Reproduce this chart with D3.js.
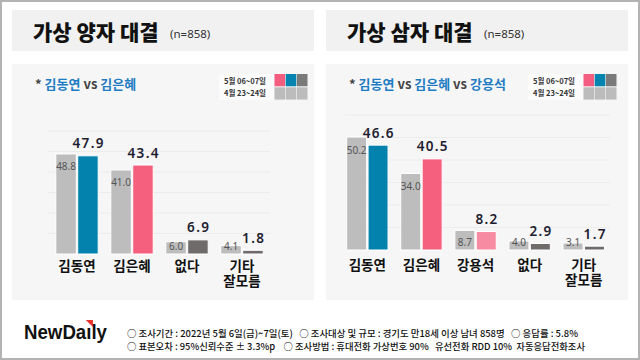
<!DOCTYPE html>
<html><head><meta charset="utf-8">
<script src="https://cdn.jsdelivr.net/npm/d3@7"></script>
<style>
html,body{margin:0;padding:0;background:#fff;}
svg{display:block;}
text{font-family:"Noto Sans","Noto Sans CJK KR",sans-serif;}
.kr{font-family:"Noto Sans CJK KR","Noto Sans",sans-serif;}
</style></head>
<body>
<svg id="c" width="640" height="360"></svg>
<script>
// ---- data ----
const leftCategories = ["김동연", "김은혜", "없다", "기타\n잘모름"];
const leftPrev = [48.8, 41.0, 6.0, 4.1];
const leftCurr = [47.9, 43.4, 6.9, 1.8];
const leftColors = ["#0382ad", "#f5607f", "#6f6b6b", "#6f6b6b"];

const rightCategories = ["김동연", "김은혜", "강용석", "없다", "기타\n잘모름"];
const rightPrev = [50.2, 34.0, 8.7, 4.0, 3.1];
const rightCurr = [46.6, 40.5, 8.2, 2.9, 1.7];
const rightColors = ["#0382ad", "#f5607f", "#f78ba1", "#6f6b6b", "#6f6b6b"];

const gridTicks = [10, 20, 30, 40, 50, 60];
const legendLabels = ["5월 06~07일", "4월 23~24일"];
const legendCurrColors = ["#f35d7f", "#0584b0", "#7a7a7a"];
const legendPrevColor = "#bcbcbc";
const prevColor = "#bdbdbd";

const footerLines = [
  "○ 조사기간 : 2022년 5월 6일(금)~7일(토)   ○ 조사대상 및 규모 : 경기도 만18세 이상 남녀 858명   ○ 응답률 : 5.8%",
  "○ 표본오차 : 95%신뢰수준 ± 3.3%p    ○ 조사방법 : 휴대전화 가상번호 90%   유선전화 RDD 10%  자동응답전화조사"
];

const svg = d3.select("#c");

// outer frame
svg.append("rect").attr("x",1).attr("y",1).attr("width",638).attr("height",358)
  .attr("fill","#fff").attr("stroke","#b3b3b3").attr("stroke-width",2);

function panel(opt) {
  const g = svg.append("g");
  // title box
  g.append("rect").attr("x",opt.x).attr("y",10).attr("width",302).attr("height",41).attr("fill","#f1f1f1");
  g.append("text").attr("class","kr").attr("x",opt.x+21).attr("y",39.5)
    .attr("font-size",21).attr("font-weight",900).attr("fill","#111").text(opt.title);
  g.append("text").attr("x",opt.nx).attr("y",38).attr("font-size",11.5).attr("fill","#333").text("(n=858)");
  // panel box
  g.append("rect").attr("x",opt.x).attr("y",64).attr("width",302).attr("height",236).attr("fill","#f6f6f6");
  // subtitle
  const st = g.append("text").attr("class","kr").attr("x",opt.x+23).attr("y",89)
    .attr("font-size",13).attr("font-weight",700);
  st.append("tspan").attr("fill","#444").text("* ");
  opt.names.forEach((n,i)=>{
    if(i>0) st.append("tspan").attr("fill","#444").text(" vs ");
    st.append("tspan").attr("fill","#1d7cc3").text(n);
  });
  // legend
  const lx = opt.lx;
  const lg = g.append("g");
  lg.append("rect").attr("x",lx).attr("y",74).attr("width",55).attr("height",26).attr("fill","#fbfbfb");
  lg.append("line").attr("x1",lx).attr("x2",lx+89).attr("y1",86.8).attr("y2",86.8).attr("stroke","#fff").attr("stroke-width",1);
  legendLabels.forEach((l,i)=>{
    lg.append("text").attr("class","kr").attr("x",lx+26).attr("y",83.5+i*12.8).attr("text-anchor","middle")
      .attr("font-size",7.5).attr("font-weight",700).attr("fill","#333").text(l);
  });
  legendCurrColors.forEach((c,i)=>{
    lg.append("rect").attr("x",lx+55.5+i*11.2).attr("y",74).attr("width",10.6).attr("height",12.3).attr("fill",c);
    lg.append("rect").attr("x",lx+55.5+i*11.2).attr("y",87.3).attr("width",10.6).attr("height",12.3).attr("fill",legendPrevColor);
  });

  // scales
  const y = d3.scaleLinear().domain([0,60]).range([opt.base, opt.top]);
  const x = d3.scaleBand().domain(opt.cats).range(opt.xr).paddingInner(0).paddingOuter(0);
  const cx = d => x(d) + x.bandwidth()/2;

  // grid
  g.append("g").selectAll("line").data(gridTicks).join("line")
    .attr("x1",opt.gx[0]).attr("x2",opt.gx[1]).attr("y1",d=>y(d)).attr("y2",d=>y(d))
    .attr("stroke","#ececec").attr("stroke-width",1);

  const bw = opt.bw;
  const data = opt.cats.map((c,i)=>({c, prev:opt.prev[i], curr:opt.curr[i], color:opt.colors[i]}));
  // prev bars
  g.append("g").selectAll("rect").data(data).join("rect")
    .attr("x",d=>cx(d.c)-bw-0.7).attr("width",bw)
    .attr("y",d=>y(d.prev)).attr("height",d=>y(0)-y(d.prev))
    .attr("fill",prevColor).attr("stroke","#fff").attr("stroke-width",1);
  // curr bars
  g.append("g").selectAll("rect").data(data).join("rect")
    .attr("x",d=>cx(d.c)+0.7).attr("width",bw)
    .attr("y",d=>y(d.curr)).attr("height",d=>y(0)-y(d.curr))
    .attr("fill",d=>d.color).attr("stroke","#fff").attr("stroke-width",1);
  // prev labels
  g.append("g").selectAll("text").data(data).join("text")
    .attr("x",d=>cx(d.c)-bw/2-0.7)
    .attr("y",d=>Math.min(y(d.prev)+16.5, y(0)-4.5))
    .attr("text-anchor","middle").attr("font-size",10).attr("fill","#555")
    .text(d=>d.prev.toFixed(1));
  // curr labels
  g.append("g").selectAll("text").data(data).join("text")
    .attr("x",d=>cx(d.c)+bw/2+0.7+0.7)
    .attr("y",d=>y(d.curr)-7.5)
    .attr("text-anchor","middle").attr("font-size",13.5).attr("font-weight",600)
    .attr("letter-spacing",1.3).attr("fill","#1e2030")
    .text(d=>d.curr.toFixed(1));
  // category labels (one text per line)
  const lines = [];
  data.forEach(d=>d.c.split("\n").forEach((l,i)=>lines.push({c:d.c, l, i})));
  g.append("g").selectAll("text").data(lines).join("text")
    .attr("class","kr").attr("x",d=>cx(d.c)).attr("y",d=>opt.catY + d.i*14.5)
    .attr("text-anchor","middle").attr("font-size",13.5).attr("font-weight",700).attr("fill","#111")
    .text(d=>d.l);
}

panel({x:12, title:"가상 양자 대결", nx:170, names:["김동연","김은혜"], lx:219,
  base:254, top:131, xr:[49.5,269.5], gx:[48,270], bw:20.5,
  cats:leftCategories, prev:leftPrev, curr:leftCurr, colors:leftColors, catY:271});
panel({x:326, title:"가상 삼자 대결", nx:484, names:["김동연","김은혜","강용석"], lx:528,
  base:250, top:115, xr:[340.3,610.8], gx:[345,610], bw:20,
  cats:rightCategories, prev:rightPrev, curr:rightCurr, colors:rightColors, catY:270});

// footer logo
const logo = svg.append("text").attr("x",24).attr("y",339)
  .attr("font-size",19.5).attr("font-weight",700)
  .attr("fill","#111").attr("textLength",83).attr("lengthAdjust","spacingAndGlyphs")
  .style("font-family","'Liberation Sans', Arial, sans-serif")
  .text("NewDaıly");
const ln = logo.node();
const sx = ln.getStartPositionOfChar(5).x, ex = ln.getEndPositionOfChar(5).x;
svg.append("path").attr("d", `M${sx-0.5},320 L${ex+1.5},320 L${ex+1.5},327 Z`).attr("fill","#e8332a");

// footer text
const fw = [451, 458];
footerLines.forEach((l,i)=>{
  svg.append("text").attr("class","kr").attr("x",127).attr("y",337+i*12.5)
    .attr("font-size",9.5).attr("font-weight",500).attr("fill","#111")
    .attr("textLength",fw[i]).attr("lengthAdjust","spacingAndGlyphs")
    .style("white-space","pre").text(l);
});
</script>
</body></html>
